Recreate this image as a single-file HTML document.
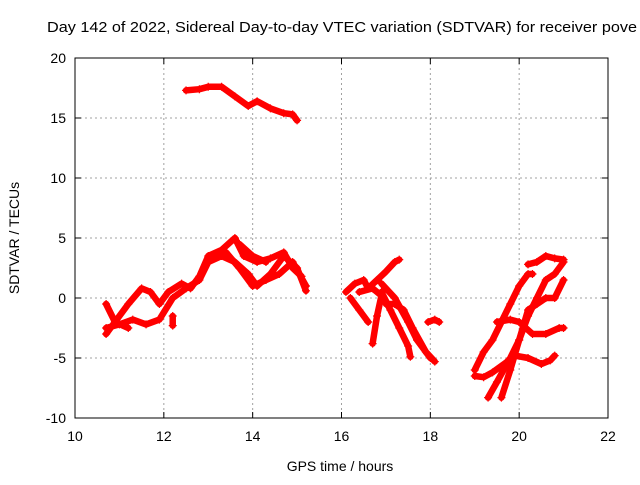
<!DOCTYPE html>
<html><head><meta charset="utf-8"><style>
body{margin:0;background:#fff;}
svg{font-family:"Liberation Sans",sans-serif;}
</style></head><body>
<svg id="chart" width="640" height="480" xmlns="http://www.w3.org/2000/svg">
<rect width="640" height="480" fill="#fff"/>
<text x="47" y="32" font-size="15" textLength="590" lengthAdjust="spacingAndGlyphs">Day 142 of 2022, Sidereal Day-to-day VTEC variation (SDTVAR) for receiver pove</text>
<g id="grid"></g>
<g id="axes"></g>
<g id="series"></g>
<text x="340" y="471" font-size="14" text-anchor="middle">GPS time / hours</text>
<text transform="translate(19,238) rotate(-90)" font-size="14" text-anchor="middle">SDTVAR / TECUs</text>
</svg>
<script>
const xTicks=[10,12,14,16,18,20,22];
const yTicks=[-10,-5,0,5,10,15,20];
const trackTop=[[12.5,17.3],[12.8,17.4],[13.0,17.6],[13.3,17.6],[13.6,16.8],[13.9,16.0],[14.1,16.4],[14.4,15.8],[14.7,15.4],[14.9,15.3],[15.0,14.8]];
const trackB1=[[10.7,-2.5],[11.0,-2.2],[11.3,-1.8],[11.6,-2.2],[11.9,-1.8],[12.2,0.0],[12.5,0.8],[12.8,1.5],[13.0,3.0],[13.3,3.5],[13.6,3.0],[13.9,2.0],[14.1,1.0],[14.4,2.0],[14.7,3.5],[15.0,2.5],[15.2,0.6]];
const trackB2=[[10.7,-3.0],[10.9,-2.0],[11.2,-0.5],[11.5,0.8],[11.7,0.5],[11.9,-0.5],[12.1,0.5],[12.4,1.2],[12.6,0.8],[12.8,1.8],[13.0,3.5],[13.3,4.0],[13.6,5.0],[13.8,3.5],[14.1,3.0],[14.4,3.3],[14.7,3.8],[14.9,2.5],[15.1,1.8]];
const trackB3=[[10.7,-0.5],[10.9,-2.0],[11.2,-2.5]];
const trackB4=[[13.4,3.8],[13.7,2.5],[14.0,1.0],[14.3,1.5],[14.6,2.0],[14.9,3.0],[15.2,1.0]];
const trackB5=[[12.2,-1.5],[12.2,-2.3]];
const trackB6=[[13.7,4.5],[14.0,3.5],[14.3,3.0]];
const trackC1=[[16.1,0.5],[16.3,1.2],[16.5,1.5],[16.6,0.8],[16.8,1.5],[17.0,2.2],[17.2,3.0],[17.3,3.2]];
const trackC2=[[16.2,0.0],[16.4,-1.0],[16.6,-2.0]];
const trackC3=[[16.4,0.5],[16.7,0.8],[16.9,0.2],[16.8,-1.5],[16.7,-3.8]];
const trackC4=[[16.9,0.5],[17.1,-1.0],[17.3,-2.5],[17.5,-4.0],[17.55,-4.9]];
const trackC5=[[17.0,-0.5],[17.2,-0.5],[17.4,-1.0],[17.6,-2.5],[17.9,-4.5],[18.1,-5.3]];
const trackC6=[[16.9,1.2],[17.2,0.0],[17.5,-2.0],[17.7,-3.5],[18.0,-5.0]];
const trackC7=[[17.95,-2.0],[18.1,-1.8],[18.2,-2.0]];
const trackD1=[[19.0,-6.5],[19.2,-6.6],[19.4,-6.2],[19.7,-5.4],[19.9,-4.8],[20.2,-5.0],[20.5,-5.5],[20.7,-5.2],[20.8,-4.8]];
const trackD2=[[19.0,-6.0],[19.2,-4.5],[19.4,-3.5],[19.6,-2.0],[19.8,-0.5],[20.0,1.0],[20.2,2.0],[20.3,2.0]];
const trackD3=[[20.2,2.8],[20.4,3.0],[20.6,3.5],[20.8,3.3],[21.0,3.2]];
const trackD4=[[19.5,-2.0],[19.8,-1.8],[20.0,-2.0],[20.3,-3.0],[20.6,-3.0],[20.9,-2.5],[21.0,-2.5]];
const trackD5=[[19.3,-8.3],[19.5,-7.0],[19.8,-5.0],[20.0,-3.5],[20.2,-1.5],[20.4,0.0],[20.6,1.5],[20.8,2.0],[21.0,3.0]];
const trackD6=[[19.6,-8.3],[19.8,-6.0],[20.0,-3.5],[20.2,-1.0],[20.4,-0.5],[20.6,0.0],[20.8,0.0],[21.0,1.5]];
const tracks=[trackTop,trackB1,trackB2,trackB3,trackB4,trackB5,trackB6,trackC1,trackC2,trackC3,trackC4,trackC5,trackC6,trackC7,trackD1,trackD2,trackD3,trackD4,trackD5,trackD6];

const L=75,R=608,T=58,B=418;
const sx=v=>L+(v-10)/12*(R-L);
const sy=v=>B-(v+10)/30*(B-T);
const NS="http://www.w3.org/2000/svg";
function mk(tag,attrs,parent){const e=document.createElementNS(NS,tag);for(const k in attrs)e.setAttribute(k,attrs[k]);parent.appendChild(e);return e;}
const grid=document.getElementById('grid'),axes=document.getElementById('axes'),series=document.getElementById('series');
xTicks.forEach(t=>{
  const x=sx(t);
  if(t>10&&t<22){const g=mk('line',{x1:x,x2:x,y1:T,y2:B,stroke:'#a0a0a0','stroke-dasharray':'2,3'},grid);
  
  }
  mk('line',{x1:x,x2:x,y1:B,y2:B-6,stroke:'#000'},axes);
  mk('line',{x1:x,x2:x,y1:T,y2:T+6,stroke:'#000'},axes);
  const lb=mk('text',{x:x,y:B+23,'font-size':14,'text-anchor':'middle'},axes);
  lb.textContent=t;
  
  
});
yTicks.forEach(t=>{
  const y=sy(t);
  if(t>-10&&t<20){const g=mk('line',{x1:L,x2:R,y1:y,y2:y,stroke:'#a0a0a0','stroke-dasharray':'2,3'},grid);
  
  }
  mk('line',{x1:L,x2:L+6,y1:y,y2:y,stroke:'#000'},axes);
  mk('line',{x1:R,x2:R-6,y1:y,y2:y,stroke:'#000'},axes);
  const lb=mk('text',{x:L-9,y:y+5,'font-size':14,'text-anchor':'end'},axes);
  lb.textContent=t;
  
  
});
const frame=mk('rect',{x:L,y:T,width:R-L,height:B-T,fill:'none',stroke:'#000'},axes);


tracks.forEach(tr=>{
  const pl=mk('polyline',{points:tr.map(p=>sx(p[0])+','+sy(p[1])).join(' '),fill:'none',stroke:'#f00','stroke-width':6.5,'stroke-linejoin':'round','stroke-linecap':'round'},series);
  
  
  tr.forEach(p=>{
    const x=sx(p[0]),y=sy(p[1]);
    const m=mk('path',{d:`M${x-4},${y}H${x+4}M${x},${y-4}V${y+4}`,stroke:'#f00','stroke-width':1.2},series);
    
    
  });
});
</script>
</body></html>
